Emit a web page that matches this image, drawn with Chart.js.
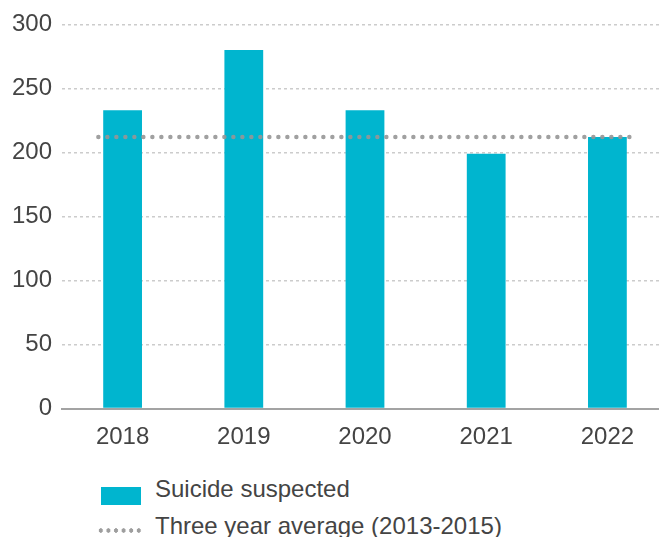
<!DOCTYPE html>
<html>
<head>
<meta charset="utf-8">
<script src="https://cdn.jsdelivr.net/npm/chart.js@4"></script>
<style>
  html, body { margin: 0; padding: 0; background: #fff; overflow: hidden; }
  #wrap { position: relative; width: 670px; height: 537px; }
  #box { position: absolute; left: 0; top: 0; width: 670px; height: 460px; }
  .leg { position: absolute; left: 0; font-family: "Liberation Sans", Arial, sans-serif;
         font-size: 24px; line-height: 24px; color: #444; white-space: nowrap; }
  .leg span { position: absolute; }
</style>
</head>
<body>
<div id="wrap">
  <div id="box"><canvas id="grafica"></canvas></div>
  <div id="legend"></div>
</div>
<script>
// Datos de la grafica
const years = ['2018', '2019', '2020', '2021', '2022'];
const suicideSuspected = [233, 280, 233, 199, 212];
const threeYearAverage = [212, 212];
const averageSpan = [2017.8, 2022.24];
const yTicks = [0, 50, 100, 150, 200, 250, 300];

const tealColor = '#00b5cf';
const dotColor = '#9e9e9e';
const textColor = '#444444';

Chart.defaults.font.family = '"Liberation Sans", Arial, sans-serif';
Chart.defaults.font.size = 24;
Chart.defaults.color = textColor;

const data = {
  labels: years,
  datasets: [{
    type: 'bar',
    label: 'Suicide suspected',
    data: suicideSuspected,
    backgroundColor: tealColor,
    borderWidth: 0,
    grouped: false,
    categoryPercentage: 0.32,
    barPercentage: 1,
    order: 2
  }, {
    type: 'line',
    label: 'Three year average (2013-2015)',
    xAxisID: 'x2',
    data: averageSpan.map(function (x, i) { return { x: x, y: threeYearAverage[i] }; }),
    borderColor: 'rgba(150, 150, 150, 0.9)',
    borderWidth: 4.5,
    borderDash: [0, 9],
    borderCapStyle: 'round',
    pointRadius: 0,
    fill: false,
    order: 1
  }]
};

const config = {
  type: 'bar',
  data: data,
  options: {
    responsive: true,
    maintainAspectRatio: false,
    animation: false,
    layout: { padding: { top: 24, right: 2, left: 0, bottom: 0 } },
    plugins: {
      legend: { display: false },
      tooltip: { enabled: false }
    },
    scales: {
      x: {
        type: 'category',
        offset: true,
        grid: { display: false, drawTicks: false },
        border: { display: true, color: '#a3a3a3', width: 2 },
        ticks: { padding: 14, color: textColor },
        afterFit: function (scale) { scale.height = 51.5; }
      },
      x2: {
        type: 'linear',
        display: false,
        offset: false,
        min: 2017.5,
        max: 2022.5
      },
      y: {
        min: 0,
        max: 300,
        grid: { color: '#cccccc', lineWidth: 1.5, drawTicks: false },
        border: { display: false, dash: [3, 3] },
        ticks: { padding: 10, color: textColor },
        afterBuildTicks: function (scale) {
          scale.ticks = yTicks.map(function (v) { return { value: v }; });
        },
        afterFit: function (scale) { scale.width = 62; }
      }
    }
  }
};

const myChart = new Chart(document.getElementById('grafica'), config);

// Leyenda en HTML, generada desde la grafica (orden de los datasets)
const items = Chart.defaults.plugins.legend.labels.generateLabels(myChart)
  .sort(function (a, b) { return a.datasetIndex - b.datasetIndex; });
const legendDiv = document.getElementById('legend');
const rowTops = [477, 514];
items.forEach(function (item, i) {
  const row = document.createElement('div');
  row.className = 'leg';
  row.style.top = rowTops[i] + 'px';
  row.style.width = '600px';
  row.style.height = '30px';
  const sw = document.createElement('span');
  if (i === 0) {
    sw.style.cssText = 'left:101px;top:10px;width:40px;height:18px;background:' + tealColor + ';';
  } else {
    sw.style.cssText = 'left:97px;top:14px;width:45px;height:5px;' +
      'background-image:radial-gradient(circle, ' + dotColor + ' 2px, transparent 2.4px);' +
      'background-size:7.6px 5px;background-repeat:repeat-x;';
  }
  const txt = document.createElement('span');
  txt.style.left = '155px';
  txt.style.top = '0px';
  txt.textContent = item.text;
  row.appendChild(sw);
  row.appendChild(txt);
  legendDiv.appendChild(row);
});
</script>
</body>
</html>
